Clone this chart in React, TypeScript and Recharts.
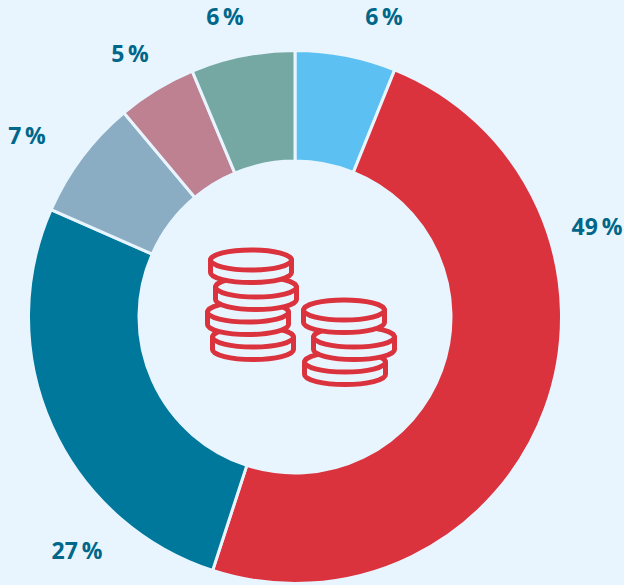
import { PieChart, Pie, Cell } from 'recharts'

const shares = [6.1, 48.9, 26.6, 7.3, 4.8, 6.3]
const shareLabels = ['6 %', '49 %', '27 %', '7 %', '5 %', '6 %']
const sliceColors = ['#5cc1f2', '#db333d', '#00789c', '#8badc4', '#bd8192', '#75a8a2']

const BG = '#e8f5fe'
const LABEL_COLOR = '#00678a'
const COIN_COLOR = '#db333d'

// labels in the original sit outside the ring, not on the slice midlines
const labelAnchors = [
    [384, 16],
    [597, 226],
    [77, 550],
    [27, 135],
    [130, 53],
    [225, 16],
]

// painted bottom coin first, so upper coins cover the lower ones
const coinStacks = [
    [253, 337],
    [248, 312],
    [256, 287],
    [251, 260],
    [345, 362],
    [354, 337],
    [344, 310],
]

const chartData = shares.map((value, i) => ({ name: shareLabels[i], value }))

function Coin({ cx, cy }: { cx: number; cy: number }) {
    const rx = 40.5
    const ry = 10
    const h = 12.5
    return (
        <g fill={BG} stroke={COIN_COLOR} strokeWidth={5} strokeLinejoin="round">
            <path d={`M${cx - rx} ${cy} V${cy + h} A${rx} ${ry} 0 0 0 ${cx + rx} ${cy + h} V${cy} Z`} />
            <ellipse cx={cx} cy={cy} rx={rx} ry={ry} />
        </g>
    )
}

function renderLabel(props: { index: number }) {
    const [x, y] = labelAnchors[props.index]
    return (
        <text
            key={props.index}
            x={x}
            y={y}
            textAnchor="middle"
            dominantBaseline="central"
            fontFamily="'Open Sans', sans-serif"
            fontWeight={700}
            fontSize={23}
            fill={LABEL_COLOR}
        >
            {shareLabels[props.index].replace(' ', '\u2009')}
        </text>
    )
}

export default function App() {
    return (
        <div style={{ position: 'absolute', left: 0, top: 0, width: 624, height: 585, background: BG, overflow: 'hidden' }}>
            <PieChart width={624} height={585} margin={{ top: 0, right: 0, bottom: 0, left: 0 }}>
                <Pie
                    data={chartData}
                    dataKey="value"
                    cx={295}
                    cy={317}
                    innerRadius={156}
                    outerRadius={266.5}
                    startAngle={90}
                    endAngle={-270}
                    stroke={BG}
                    strokeWidth={3}
                    label={renderLabel}
                    labelLine={false}
                    isAnimationActive={false}
                >
                    {chartData.map((d, i) => (
                        <Cell key={d.name + i} fill={sliceColors[i]} />
                    ))}
                </Pie>
                <g>
                    {coinStacks.map(([cx, cy], i) => (
                        <Coin key={i} cx={cx} cy={cy} />
                    ))}
                </g>
            </PieChart>
        </div>
    )
}
